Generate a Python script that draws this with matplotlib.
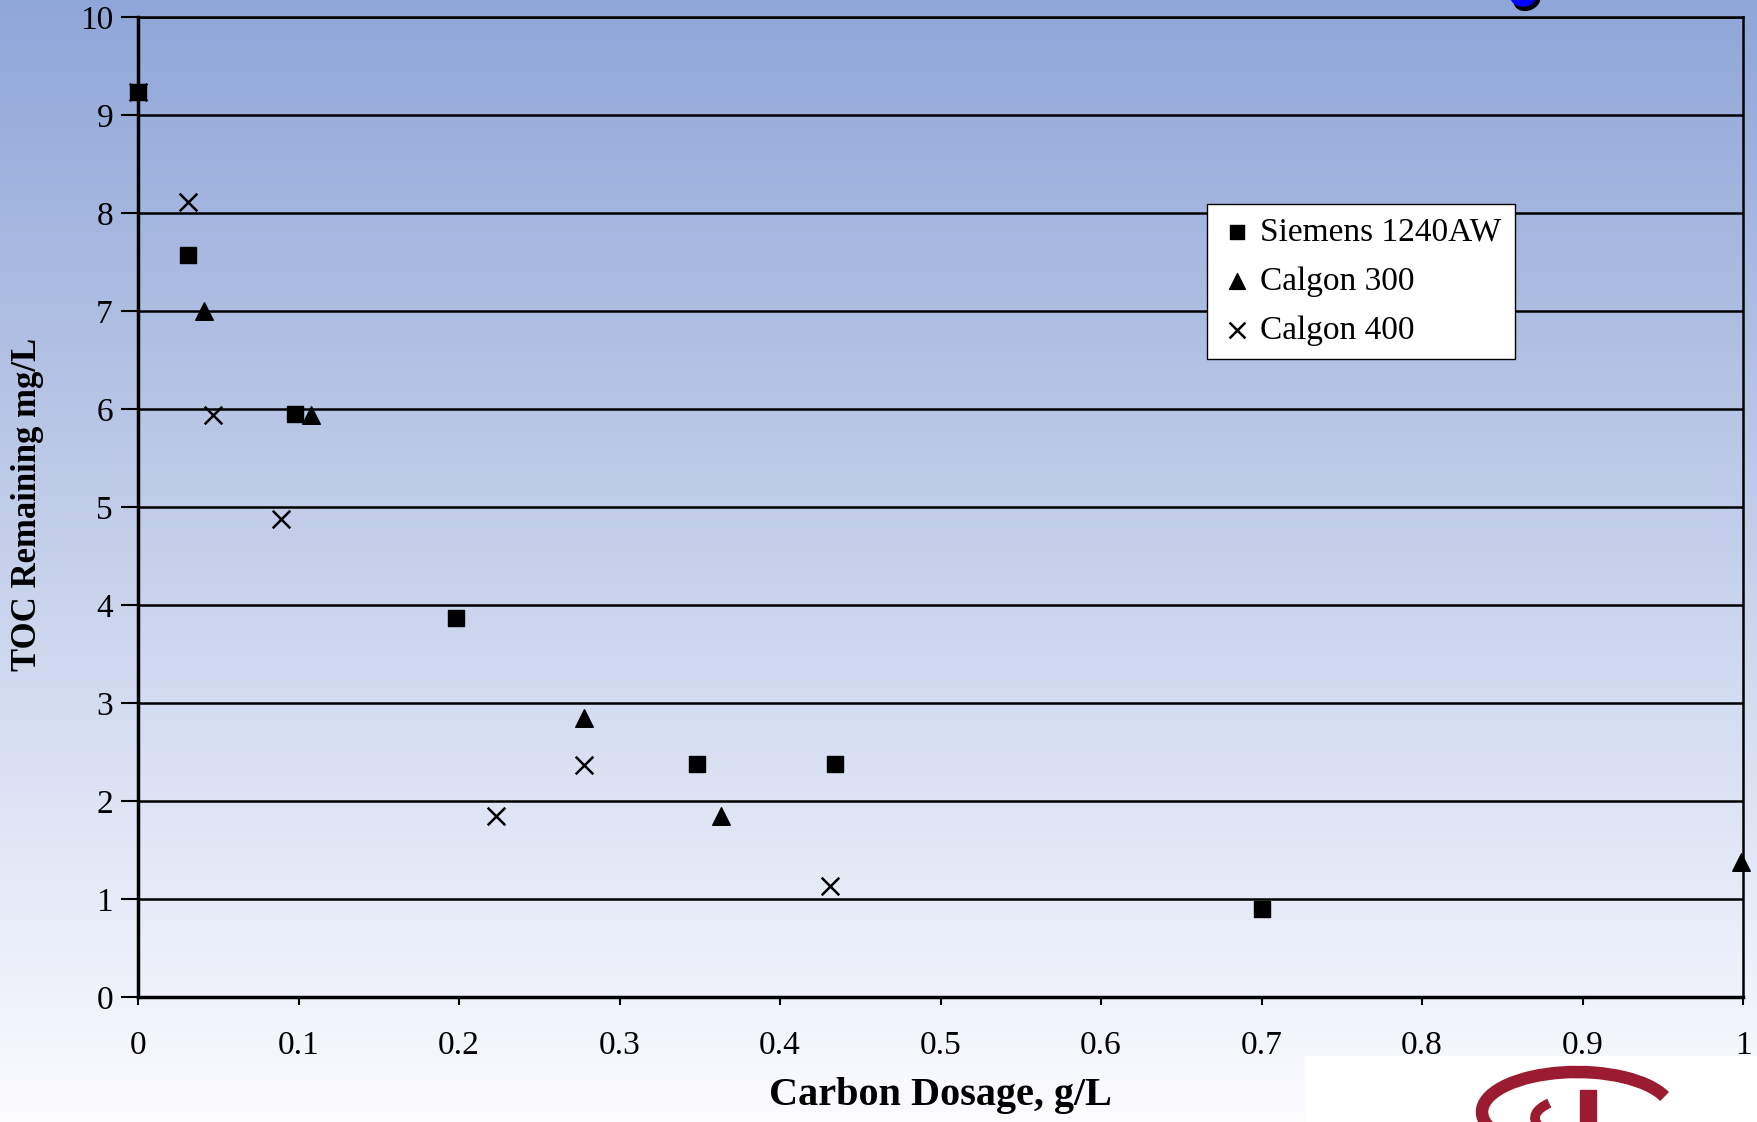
import numpy as np
import matplotlib
matplotlib.use("Agg")
import matplotlib.pyplot as plt
from matplotlib.patches import Ellipse, Rectangle, Arc

# Data
siemens_x = [0.0, 0.031, 0.098, 0.198, 0.348, 0.434, 0.700]
siemens_y = [9.23, 7.57, 5.95, 3.87, 2.38, 2.38, 0.90]

calgon300_x = [0.041, 0.108, 0.278, 0.363, 0.999]
calgon300_y = [7.00, 5.94, 2.85, 1.85, 1.38]

calgon400_x = [0.0, 0.031, 0.047, 0.089, 0.223, 0.278, 0.431]
calgon400_y = [9.23, 8.11, 5.94, 4.88, 1.85, 2.37, 1.13]

x_ticks = [0, 0.1, 0.2, 0.3, 0.4, 0.5, 0.6, 0.7, 0.8, 0.9, 1]
x_labels = ["0", "0.1", "0.2", "0.3", "0.4", "0.5", "0.6", "0.7", "0.8", "0.9", "1"]
y_ticks = list(range(0, 11))

plt.rcParams['font.family'] = ['Liberation Serif', 'DejaVu Serif']

W, H = 1757, 1122
fig = plt.figure(figsize=(W / 100, H / 100), dpi=100)

# slide background: blue to white gradient
bg = fig.add_axes([0, 0, 1, 1], zorder=0)
top = np.array([143, 166, 216]) / 255
bot = np.array([252, 252, 255]) / 255
t = np.linspace(0, 1, 256)[:, None]
grad = top * (1 - t) + bot * t
bg.imshow(grad[:, None, :], aspect='auto', extent=[0, 1, 0, 1])
bg.set_axis_off()

ax = fig.add_axes([138 / W, 1 - 997 / H, (1743 - 138) / W, (997 - 17) / H], zorder=1)
ax.set_facecolor('none')

ax.scatter(siemens_x, siemens_y, marker='s', s=120, color='black', label='Siemens 1240AW',
           zorder=3, clip_on=False)
ax.scatter(calgon300_x, calgon300_y, marker='^', s=160, color='black', label='Calgon 300',
           zorder=3, clip_on=False)
ax.scatter(calgon400_x, calgon400_y, marker='x', s=160, color='black', linewidths=1.8,
           label='Calgon 400', zorder=3, clip_on=False)

ax.set_xlim(0, 1)
ax.set_ylim(0, 10)
ax.set_xticks(x_ticks)
ax.set_xticklabels(x_labels)
ax.set_yticks(y_ticks)
ax.yaxis.grid(True, color='black', linewidth=1.8)
ax.set_axisbelow(True)

for side in ['left', 'bottom']:
    ax.spines[side].set_linewidth(2.5)
for side in ['top', 'right']:
    ax.spines[side].set_linewidth(1.8)

ax.tick_params(axis='y', direction='out', length=12, width=1.5, pad=6, labelsize=24)
ax.tick_params(axis='x', direction='out', length=6, width=1.5, pad=18, labelsize=24)

ax.set_xlabel('Carbon Dosage, g/L', fontsize=29, fontweight='bold', labelpad=12)
fig.text(28 / W, 1 - 504 / H, 'TOC Remaining mg/L', rotation=90, fontsize=25,
         fontweight='bold', ha='center', va='center')

leg = ax.legend(loc='upper left', bbox_to_anchor=((1207 - 138) / (1743 - 138), 1 - (204 - 17) / (997 - 17)),
                fontsize=24, frameon=True, fancybox=False, edgecolor='black',
                handletextpad=0.2, handlelength=1.0, borderpad=0.4, labelspacing=0.55,
                borderaxespad=0, scatterpoints=1, markerscale=0.9)
leg.get_frame().set_linewidth(1.0)
leg.get_frame().set_facecolor('white')
leg.get_frame().set_alpha(1)

# decorations from the slide: blue dot at top, logo box at bottom right
deco = fig.add_axes([0, 0, 1, 1], zorder=2)
deco.set_xlim(0, W)
deco.set_ylim(H, 0)
deco.set_axis_off()
deco.add_patch(Ellipse((1527, 0), 26, 20, angle=-20, color='black'))
deco.add_patch(Ellipse((1523, -3), 24, 18, color='blue'))
deco.add_patch(Rectangle((1305, 1056), W - 1305, H - 1056, color='white'))
deco.add_patch(Arc((1577, 1112), 190, 80, theta1=15, theta2=350, color='#9b1b30', linewidth=9))
deco.add_patch(Arc((1590, 1118), 110, 44, theta1=110, theta2=200, color='#9b1b30', linewidth=7))
deco.add_patch(Rectangle((1580, 1090), 16, 32, color='#9b1b30'))

fig.savefig('out.png', dpi=100)
